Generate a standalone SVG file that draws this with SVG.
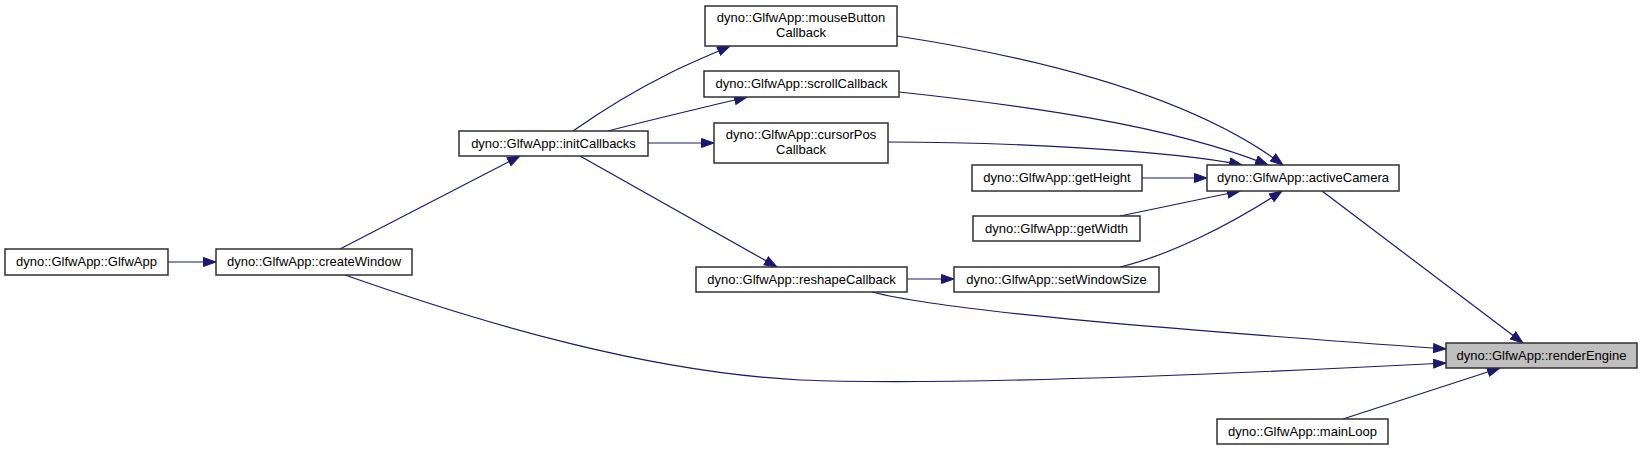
<svg xmlns="http://www.w3.org/2000/svg" width="1643" height="450" viewBox="0 0 1643 450">
<style>
.n rect{fill:#fff;stroke:#303030;stroke-width:1.5}
.n.hl rect{fill:#bfbfbf}
.n text{font-family:"Liberation Sans",Arial,sans-serif;font-size:13px;fill:#000;text-anchor:middle}
.e path{fill:none;stroke:#191970;stroke-width:1.2;marker-end:url(#ah)}
</style>
<defs>
<marker id="ah" markerUnits="userSpaceOnUse" markerWidth="15" markerHeight="11" refX="13" refY="5" orient="auto">
<path d="M0.5,0.5 L13,5 L0.5,9.5 z" fill="#191970" stroke="#191970" stroke-width="1"/>
</marker>
</defs>
<rect width="1643" height="450" fill="#fff"/>
<g id="edges" class="e">
<path d="M168,262 L216,262"/>
<path d="M340,249 L520,156"/>
<path d="M573,131 C610,105 640,88 670,73 C690,63 710,55 730,46"/>
<path d="M608,131 C650,120 710,106 747,97"/>
<path d="M648,143 L714,143"/>
<path d="M580,156 L777,267"/>
<path d="M907,279 L954,279"/>
<path d="M897,36 C1040,58 1190,95 1283,165"/>
<path d="M899,92 C1020,105 1170,125 1268,165"/>
<path d="M888,142 C1000,142 1170,150 1242,165"/>
<path d="M1142,178 L1207,178"/>
<path d="M1120,216 L1240,191"/>
<path d="M1120,267 C1170,255 1230,225 1282,191"/>
<path d="M1322,191 L1523,343"/>
<path d="M872,292 C950,312 1180,330 1446,349"/>
<path d="M345,275 C490,326 650,372 800,380 C950,386 1250,373 1446,363"/>
<path d="M1343,419 L1500,368"/>
</g>
<g id="GlfwApp" class="n"><rect x="5" y="249" width="163" height="26"/><text x="86.5" y="266">dyno::GlfwApp::GlfwApp</text></g>
<g id="createWindow" class="n"><rect x="216" y="249" width="196" height="26"/><text x="314" y="266">dyno::GlfwApp::createWindow</text></g>
<g id="initCallbacks" class="n"><rect x="459" y="131" width="189" height="25"/><text x="553.5" y="148">dyno::GlfwApp::initCallbacks</text></g>
<g id="mouseButtonCallback" class="n"><rect x="705" y="6" width="192" height="40"/><text x="801" y="22">dyno::GlfwApp::mouseButton</text><text x="801" y="37">Callback</text></g>
<g id="scrollCallback" class="n"><rect x="704" y="71" width="195" height="26"/><text x="801.5" y="88">dyno::GlfwApp::scrollCallback</text></g>
<g id="cursorPosCallback" class="n"><rect x="714" y="123" width="174" height="40"/><text x="801" y="139">dyno::GlfwApp::cursorPos</text><text x="801" y="154">Callback</text></g>
<g id="reshapeCallback" class="n"><rect x="696" y="267" width="211" height="25"/><text x="801.5" y="284">dyno::GlfwApp::reshapeCallback</text></g>
<g id="getHeight" class="n"><rect x="972" y="165" width="170" height="26"/><text x="1057" y="182">dyno::GlfwApp::getHeight</text></g>
<g id="getWidth" class="n"><rect x="973" y="216" width="167" height="25"/><text x="1056.5" y="233">dyno::GlfwApp::getWidth</text></g>
<g id="setWindowSize" class="n"><rect x="954" y="267" width="205" height="25"/><text x="1056.5" y="284">dyno::GlfwApp::setWindowSize</text></g>
<g id="activeCamera" class="n"><rect x="1207" y="165" width="192" height="26"/><text x="1303" y="182">dyno::GlfwApp::activeCamera</text></g>
<g id="renderEngine" class="n hl"><rect x="1446" y="343" width="191" height="25"/><text x="1541.5" y="360">dyno::GlfwApp::renderEngine</text></g>
<g id="mainLoop" class="n"><rect x="1217" y="419" width="171" height="25"/><text x="1302.5" y="436">dyno::GlfwApp::mainLoop</text></g>
</svg>
